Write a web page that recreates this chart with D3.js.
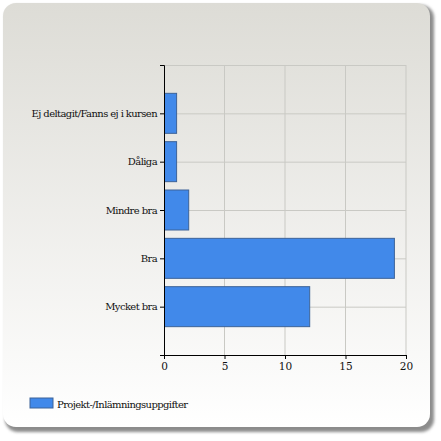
<!DOCTYPE html>
<html>
<head>
<meta charset="utf-8">
<script src="https://cdn.jsdelivr.net/npm/d3@7"></script>
<style>
  body { margin: 0; background: #fff; }
</style>
</head>
<body>
<div id="chart"></div>
<script>
// chart data
const categories = ["Ej deltagit/Fanns ej i kursen", "Dåliga", "Mindre bra", "Bra", "Mycket bra"];
const values = [1, 1, 2, 19, 12];
const xTicks = [0, 5, 10, 15, 20];
const seriesName = "Projekt-/Inlämningsuppgifter";

const FONT = "DejaVu Serif, Liberation Serif, serif";
const W = 441, H = 441;
const margin = {top: 65, right: 35, bottom: 86, left: 164};
const width = W - margin.left - margin.right,
      height = H - margin.top - margin.bottom;

const svg = d3.select("#chart").append("svg")
  .attr("width", W).attr("height", H)
  .style("font-family", FONT).style("font-size", "10px");

const defs = svg.append("defs");
const grad = defs.append("linearGradient")
  .attr("id", "bg").attr("x1", 0).attr("y1", 0).attr("x2", 0).attr("y2", 1);
grad.append("stop").attr("offset", "0%").attr("stop-color", "#dddcd6");
grad.append("stop").attr("offset", "100%").attr("stop-color", "#ffffff");
const blur = defs.append("filter").attr("id", "shadow")
  .attr("x", "-10%").attr("y", "-10%").attr("width", "120%").attr("height", "120%");
blur.append("feGaussianBlur").attr("stdDeviation", 1.8);

// panel shadow + panel
svg.append("rect")
  .attr("x", 5).attr("y", 5).attr("width", 429).attr("height", 427)
  .attr("rx", 13).attr("fill", "#8c8c8c").attr("filter", "url(#shadow)");
svg.append("rect")
  .attr("x", 3).attr("y", 3).attr("width", 427).attr("height", 424)
  .attr("rx", 13).attr("fill", "url(#bg)");

const g = svg.append("g")
  .attr("transform", `translate(${margin.left},${margin.top})`);

// scales: categories sit at 1..5 on a 0..6 scale
const x = d3.scaleLinear().domain([0, 20]).range([0, width]);
const y = d3.scaleLinear().domain([0, categories.length + 1]).range([0, height]);
const barH = 40;

// grid
g.append("g").selectAll("line").data(xTicks.slice(1)).join("line")
  .attr("x1", d => x(d)).attr("x2", d => x(d))
  .attr("y1", 0).attr("y2", height)
  .attr("stroke", "#c9c9c4").attr("stroke-width", 1);
g.append("g").selectAll("line").data(d3.range(0, categories.length + 1)).join("line")
  .attr("x1", 0).attr("x2", width)
  .attr("y1", d => y(d) + 0.5).attr("y2", d => y(d) + 0.5)
  .attr("stroke", "#c9c9c4").attr("stroke-width", 1);

// bars
g.append("g").selectAll("rect").data(values).join("rect")
  .attr("x", 0.5)
  .attr("y", (d, i) => y(i + 1) - barH / 2)
  .attr("width", d => x(d))
  .attr("height", barH)
  .attr("fill", "#4189ea")
  .attr("stroke", "#3d6398")
  .attr("stroke-width", 1);

// y axis
const yAxis = g.append("g")
  .call(d3.axisLeft(y)
    .tickValues(d3.range(1, categories.length + 1))
    .tickFormat(d => categories[d - 1])
    .tickSize(4).tickSizeOuter(4).tickPadding(3));
yAxis.attr("font-family", FONT).attr("font-size", 10);
yAxis.select(".domain").attr("stroke", "#000");
yAxis.selectAll(".tick line").attr("stroke", "#000");
yAxis.selectAll("text").attr("fill", "#111").attr("letter-spacing", -0.6);
// top tick
g.append("line").attr("x1", -4).attr("x2", 0).attr("y1", 0.5).attr("y2", 0.5).attr("stroke", "#000");

// x axis
const xAxis = g.append("g")
  .attr("transform", `translate(0,${height})`)
  .call(d3.axisBottom(x).tickValues(xTicks).tickSize(4).tickSizeOuter(0).tickPadding(4));
xAxis.attr("font-family", FONT).attr("font-size", 10.5);
xAxis.select(".domain").attr("stroke", "#000");
xAxis.selectAll(".tick line").attr("stroke", "#000");
xAxis.selectAll("text").attr("fill", "#111");
yAxis.raise();

// legend
const legend = svg.append("g").attr("transform", "translate(30,398)");
legend.append("rect").attr("width", 23).attr("height", 10)
  .attr("fill", "#4189ea").attr("stroke", "#3d6398");
legend.append("text").attr("x", 27).attr("y", 9.5).attr("letter-spacing", -0.6)
  .attr("font-family", FONT).attr("font-size", 10).attr("fill", "#111").text(seriesName);
</script>
</body>
</html>
